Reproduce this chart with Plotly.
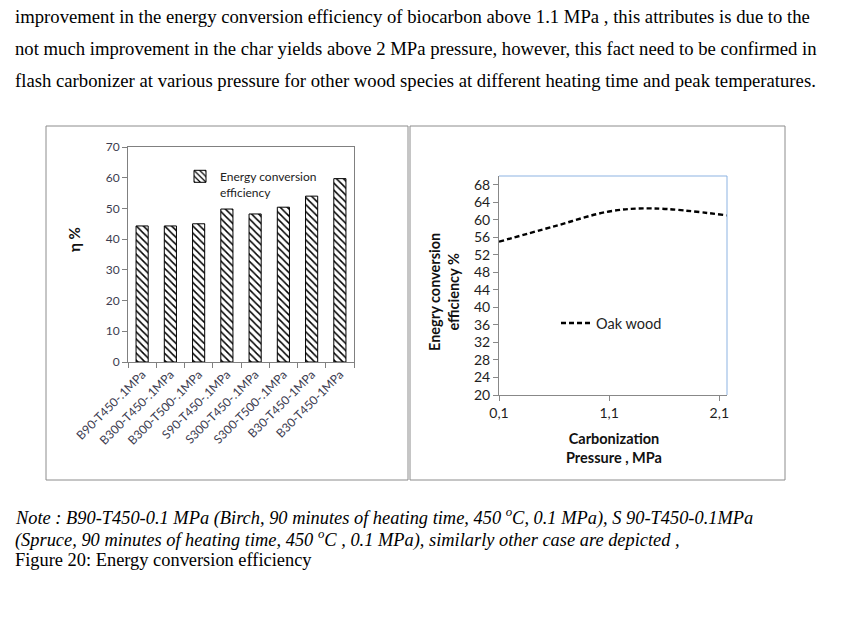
import plotly.graph_objects as go

# bar chart data
bar_labels = ["B90-T450-.1MPa", "B300-T450-.1MPa", "B300-T500-.1MPa", "S90-T450-.1MPa",
              "S300-T450-.1MPa", "S300-T500-.1MPa", "B30-T450-1MPa", "B30-T450-1MPa"]
bar_values = [44.3, 44.3, 45.0, 49.8, 48.2, 50.4, 54.0, 59.7]

# line chart data (oak wood)
pressure = [0.1, 0.6, 1.1, 1.5, 2.17]
efficiency = [55.0, 58.5, 61.9, 62.6, 61.0]

W, H = 854, 618


def px(x):
    return x / W


def py(y):
    return 1 - y / H


sans = "Lato"
serif = "Liberation Serif"

fig = go.Figure()

fig.add_trace(go.Bar(
    x=list(range(len(bar_values))), y=bar_values,
    name="Energy conversion<br>efficiency",
    width=0.43,
    marker=dict(color="white", line=dict(color="black", width=1),
                pattern=dict(shape="\\", fgcolor="black", bgcolor="white", size=5, solidity=0.3)),
    xaxis="x", yaxis="y", legend="legend",
))

fig.add_trace(go.Scatter(
    x=pressure, y=efficiency, mode="lines", name="Oak wood",
    line=dict(color="black", width=2.4, dash="5px,3px", shape="spline"),
    xaxis="x2", yaxis="y2", legend="legend2",
))

tickfont_l = dict(family=sans, size=12, color="#3c3c50")
tickfont_r = dict(family=sans, size=14, color="#1e1e1e")

fig.update_layout(
    template="none",
    width=W, height=H,
    margin=dict(l=0, r=0, t=0, b=0, autoexpand=False),
    paper_bgcolor="white", plot_bgcolor="white",
    separators=",.",
    showlegend=True,
    xaxis=dict(domain=[px(128), px(354)], range=[-0.5, 7.5], automargin=False,
               tickvals=list(range(len(bar_labels))), ticktext=bar_labels,
               tickangle=-45, ticks="", tickfont=dict(family=sans, size=12, color="#3c3c50"),
               showline=True, linecolor="#808080", mirror=True, showgrid=False, zeroline=False,
               minor=dict(tick0=-0.5, dtick=1, ticks="outside", ticklen=5, tickcolor="#808080"),
               anchor="y"),
    yaxis=dict(domain=[py(362), py(147)], range=[0, 70], dtick=10, automargin=False,
               ticks="outside", ticklen=5, tickcolor="#808080", tickfont=tickfont_l,
               showline=True, linecolor="#808080", mirror=True, showgrid=False, zeroline=False,
               anchor="x"),
    xaxis2=dict(domain=[px(499), px(727)], range=[0.1, 2.17], automargin=False,
                tickvals=[0.1, 1.1, 2.1], tickformat=".1f",
                ticks="outside", ticklen=5, tickcolor="#888888", tickfont=tickfont_r,
                showline=True, linecolor="#888888", showgrid=False, zeroline=False,
                anchor="y2"),
    yaxis2=dict(domain=[py(395), py(176)], range=[20, 70], automargin=False,
                tickvals=list(range(20, 69, 4)),
                ticks="outside", ticklen=5, tickcolor="#888888", tickfont=tickfont_r,
                showline=True, linecolor="#888888", showgrid=False, zeroline=False,
                anchor="x2"),
    legend=dict(x=px(180), y=py(162), xanchor="left", yanchor="top", valign="top",
                bgcolor="rgba(0,0,0,0)", font=dict(family=sans, size=12, color="#222222"),
                itemwidth=30, tracegroupgap=0),
    legend2=dict(x=px(556), y=py(323), xanchor="left", yanchor="middle",
                 bgcolor="rgba(0,0,0,0)", font=dict(family=sans, size=14.5, color="#222222")),
)

# panel borders and blue frame of the right plot
shapes = [
    dict(type="rect", xref="paper", yref="paper", x0=px(46), x1=px(408), y0=py(480), y1=py(126),
         line=dict(color="#8c8c8c", width=1)),
    dict(type="rect", xref="paper", yref="paper", x0=px(410), x1=px(785), y0=py(480), y1=py(126),
         line=dict(color="#8c8c8c", width=1)),
    dict(type="line", xref="x2 domain", yref="y2 domain", x0=0, x1=1, y0=1, y1=1,
         line=dict(color="#8db3e2", width=1)),
    dict(type="line", xref="x2 domain", yref="y2 domain", x0=1, x1=1, y0=0, y1=1,
         line=dict(color="#8db3e2", width=1)),
]
fig.update_layout(shapes=shapes)

ann = []
# axis titles
ann.append(dict(text="<b>η %</b>", x=px(74), y=py(240), textangle=-90,
                font=dict(family=sans, size=15, color="#111111")))
ann.append(dict(text="<b>Enegry conversion<br>efficiency %</b>", x=px(444), y=py(292), textangle=-90,
                font=dict(family=sans, size=14.5, color="#111111")))
ann.append(dict(text="<b>Carbonization<br>Pressure , MPa</b>", x=px(614), y=py(448),
                font=dict(family=sans, size=14.5, color="#111111")))

# document text above and below
top_lines = [
    "improvement in the energy conversion efficiency of biocarbon above 1.1 MPa , this attributes is due to the",
    "not much improvement in the char yields above 2 MPa pressure, however, this fact need to be confirmed in",
    "flash carbonizer at various pressure for other wood species at different heating time and peak temperatures.",
]
for i, t in enumerate(top_lines):
    ann.append(dict(text=t, x=px(13), y=py(17 + 31.5 * i), xanchor="left",
                    font=dict(family=serif, size=18.7, color="black")))

note_lines = [
    "<i>Note : B90-T450-0.1 MPa (Birch, 90 minutes of heating time, 450 <sup>o</sup>C, 0.1 MPa), S 90-T450-0.1MPa</i>",
    "<i>(Spruce, 90 minutes of heating time, 450 <sup>o</sup>C , 0.1 MPa), similarly other case are depicted ,</i>",
    "Figure 20: Energy conversion efficiency",
]
for i, t in enumerate(note_lines):
    ann.append(dict(text=t, x=px(13), y=py(517 + 21.7 * i), xanchor="left",
                    font=dict(family=serif, size=18.4, color="black")))

for a in ann:
    a.setdefault("xanchor", "center")
    a.update(xref="paper", yref="paper", yanchor="middle", showarrow=False)
fig.update_layout(annotations=ann)

# drop the default page margin so the figure sits at the window corner
fig.write_html("out.html", config={"displayModeBar": False},
               post_script="document.body.style.margin = '0';")
